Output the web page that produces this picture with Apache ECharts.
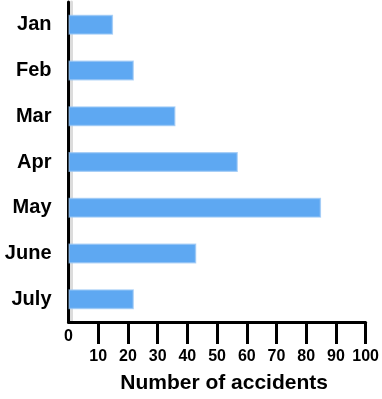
<!DOCTYPE html>
<html>
<head>
<meta charset="utf-8">
<script src="https://cdn.jsdelivr.net/npm/echarts@6/dist/echarts.min.js"></script>
<style>html,body{margin:0;padding:0;background:#fff;}#c{width:382px;height:399px;}</style>
</head>
<body>
<div id="c"></div>
<script>
var months = ['Jan', 'Feb', 'Mar', 'Apr', 'May', 'June', 'July'];
var accidents = [15, 22, 36, 57, 85, 43, 22];
var xTicks = [0, 10, 20, 30, 40, 50, 60, 70, 80, 90, 100];
var xTitle = 'Number of accidents';

var chart = echarts.init(document.getElementById('c'));
var font = 'Liberation Sans, Arial, sans-serif';
chart.setOption({
  animation: false,
  grid: { left: 68.5, right: 15, top: 2, bottom: 76.5, containLabel: false },
  xAxis: {
    type: 'value',
    min: xTicks[0], max: xTicks[xTicks.length - 1], interval: 10,
    splitLine: { show: false },
    axisLine: { show: true, lineStyle: { color: '#000', width: 3 } },
    axisTick: { show: true, length: 22, customValues: xTicks.slice(1), lineStyle: { color: '#000', width: 3 } },
    axisLabel: {
      margin: 7,
      customValues: xTicks,
      formatter: function (v) { return v === 0 ? '{z|' + v + '}' : '{n|' + v + '}'; },
      rich: {
        z: { fontFamily: font, fontWeight: 'bold', fontSize: 16, color: '#000', align: 'center' },
        n: { fontFamily: font, fontWeight: 'bold', fontSize: 16, color: '#000', padding: [20, 0, 0, 0] }
      }
    },
    name: xTitle,
    nameLocation: 'middle',
    nameGap: 51,
    nameTextStyle: { fontFamily: font, fontWeight: 'bold', fontSize: 21, color: '#000', padding: [0, 0, 0, 14] }
  },
  yAxis: {
    type: 'category',
    data: months,
    inverse: true,
    axisTick: { show: false },
    axisLine: { show: true, lineStyle: { color: '#000', width: 3, shadowColor: '#dcdcdc', shadowOffsetX: 3, shadowBlur: 0.1 } },
    axisLabel: { margin: 17, fontFamily: font, fontWeight: 'bold', fontSize: 20, color: '#000' }
  },
  series: [{
    type: 'bar',
    data: accidents,
    barWidth: 20,
    itemStyle: { color: '#5ea8f2', borderColor: 'rgba(150,196,245,0.7)', borderWidth: 1.5 }
  }]
});
</script>
</body>
</html>
